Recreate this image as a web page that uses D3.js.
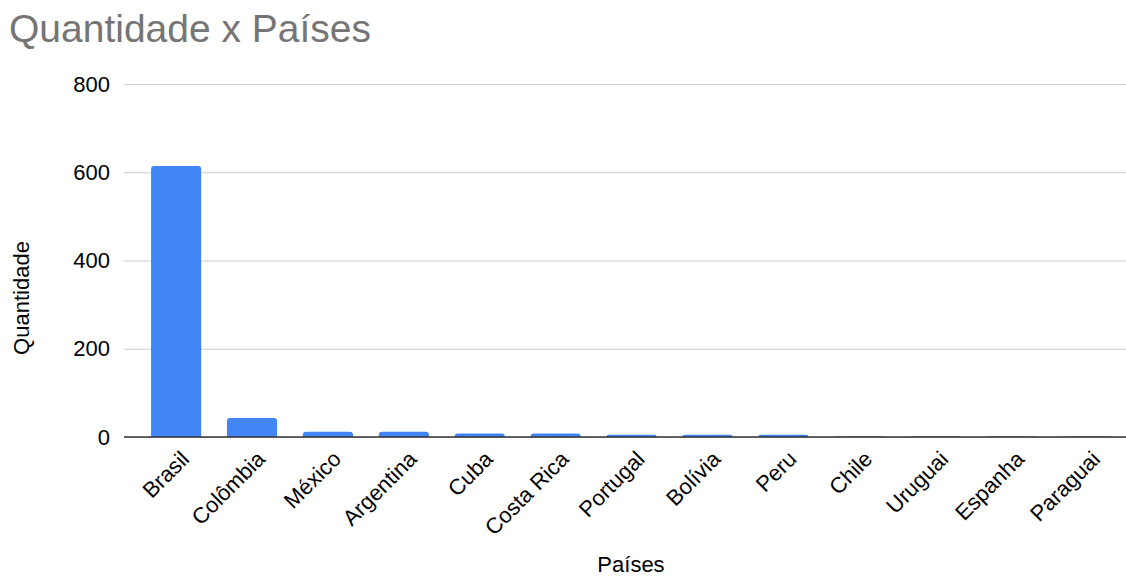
<!DOCTYPE html>
<html>
<head>
<meta charset="utf-8">
<script src="https://cdn.jsdelivr.net/npm/d3@7"></script>
<style>
  html, body { margin: 0; padding: 0; background: #fff; }
  svg { display: block; font-family: "Liberation Sans", Arial, sans-serif; }
</style>
</head>
<body>
<svg id="chart" width="1126" height="578"></svg>
<script>
// Number of records per country
const countries = ["Brasil", "Colômbia", "México", "Argentina", "Cuba", "Costa Rica",
  "Portugal", "Bolívia", "Peru", "Chile", "Uruguai", "Espanha", "Paraguai"];
const quantities = [614, 43, 12, 12, 8, 8, 5, 5, 5, 1, 1, 1, 1];
const yTicks = [0, 200, 400, 600, 800];

const W = 1126;
const svg = d3.select("#chart");
const margin = { left: 124, right: 0, top: 84, bottom: 437 };
const labelSize = 22;

const x = d3.scaleBand()
  .domain(countries)
  .range([margin.left, W - margin.right])
  .paddingInner(0.34)
  .paddingOuter(0.27)
  .align(0.66);

const y = d3.scaleLinear()
  .domain([0, 800])
  .range([margin.bottom, margin.top]);

// Title
svg.append("text")
  .attr("x", 9)
  .attr("y", 42)
  .attr("fill", "#757575")
  .attr("font-size", 39)
  .text("Quantidade x Países");

// Horizontal gridlines and y tick labels
const yAxis = d3.axisLeft(y).tickValues(yTicks).tickSize(-(W - margin.left - margin.right)).tickPadding(14);
const gy = svg.append("g").attr("transform", `translate(${margin.left},0)`).call(yAxis);
gy.select(".domain").remove();
gy.selectAll(".tick line").attr("stroke", "#cccccc").attr("stroke-width", 1);
gy.selectAll(".tick text").attr("fill", "#000").attr("font-size", labelSize)
  .attr("font-family", "Liberation Sans, Arial, sans-serif");

// Bars with slightly rounded tops
const r = 3;
svg.append("g").selectAll("path")
  .data(countries.map((c, i) => ({ c, v: quantities[i] })))
  .join("path")
  .attr("fill", "#4285f4")
  .attr("d", d => {
    const x0 = x(d.c), w = x.bandwidth();
    const y0 = y(0), y1 = y(d.v);
    const h = y0 - y1;
    const rr = Math.min(r, h, w / 2);
    return `M${x0},${y0}V${y1 + rr}Q${x0},${y1} ${x0 + rr},${y1}H${x0 + w - rr}Q${x0 + w},${y1} ${x0 + w},${y1 + rr}V${y0}Z`;
  });

// Baseline
svg.append("line")
  .attr("x1", margin.left).attr("x2", W - margin.right)
  .attr("y1", y(0)).attr("y2", y(0))
  .attr("stroke", "#333").attr("stroke-width", 1.5);

// Rotated category labels
svg.append("g").selectAll("text")
  .data(countries)
  .join("text")
  .attr("transform", d => `translate(${x(d) + x.bandwidth() / 2 + 9},${y(0) + 18}) rotate(-45)`)
  .attr("text-anchor", "end")
  .attr("font-size", labelSize)
  .attr("fill", "#000")
  .attr("dy", "0.35em")
  .text(d => d);

// Axis titles
svg.append("text")
  .attr("x", 631)
  .attr("y", 572)
  .attr("text-anchor", "middle")
  .attr("font-size", labelSize)
  .text("Países");

svg.append("text")
  .attr("transform", "translate(29,298) rotate(-90)")
  .attr("text-anchor", "middle")
  .attr("font-size", labelSize)
  .text("Quantidade");
</script>
</body>
</html>
